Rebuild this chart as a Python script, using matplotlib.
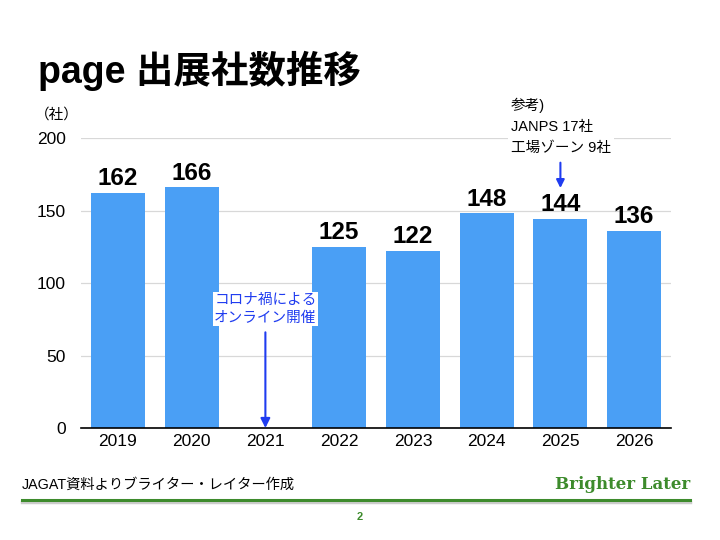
import matplotlib
matplotlib.use("Agg")
import matplotlib.pyplot as plt
import numpy as np

plt.rcParams["font.family"] = ["Liberation Sans", "Noto Sans CJK JP", "DejaVu Sans"]

# データ
years = ["2019", "2020", "2021", "2022", "2023", "2024", "2025", "2026"]
exhibitors = [162, 166, np.nan, 125, 122, 148, 144, 136]
yticks = [0, 50, 100, 150, 200]

bar_color = "#4a9ff5"
arrow_color = "#1f3cf0"
green = "#3d8b2c"

fig = plt.figure(figsize=(7.2, 5.4), dpi=100)
ax = fig.add_axes([0.1125, 0.2074, 0.8195, 0.537])

x = np.arange(len(years))
bars = ax.bar(x, np.nan_to_num(exhibitors), width=0.73, color=bar_color, zorder=3)

# 値ラベル
for xi, v in zip(x, exhibitors):
    if np.isnan(v):
        continue
    ax.annotate(f"{int(v)}", (xi, v), xytext=(0, 2), textcoords="offset points",
                ha="center", va="bottom", fontsize=17.5, fontweight="bold", zorder=4)

ax.set_xlim(-0.5, len(years) - 0.5)
ax.set_ylim(0, 200)
ax.set_yticks(yticks)
ax.set_xticks(x)
ax.set_xticklabels(years)
ax.tick_params(axis="both", length=0, labelsize=12.5)
ax.tick_params(axis="y", pad=11)
ax.tick_params(axis="x", pad=4)
ax.grid(axis="y", color="#d8d8d8", linewidth=0.9, zorder=0)
for s in ["top", "right", "left"]:
    ax.spines[s].set_visible(False)
ax.spines["bottom"].set_linewidth(1.2)
ax.spines["bottom"].set_zorder(5)
ax.set_axisbelow(True)

ax.text(-0.53, 216, "（社）", fontsize=10.5, ha="right", va="center")

# 注記（2021）
ax.annotate("", xy=(2, 0), xytext=(2, 66),
            arrowprops=dict(arrowstyle="-|>", color=arrow_color, lw=1.5,
                            mutation_scale=14, shrinkA=0, shrinkB=0), zorder=6)
ax.text(2, 82, "コロナ禍による\nオンライン開催", color=arrow_color, fontsize=10.5,
        ha="center", va="center", linespacing=1.3,
        bbox=dict(facecolor="white", edgecolor="none", pad=1), zorder=6)

# 注記（2025）
ax.annotate("", xy=(6, 165.5), xytext=(6, 183),
            arrowprops=dict(arrowstyle="-|>", color=arrow_color, lw=1.5,
                            mutation_scale=12, shrinkA=0, shrinkB=0),
            annotation_clip=False, zorder=6)
ax.text(5.33, 208, "参考)\nJANPS 17社\n工場ゾーン 9社", fontsize=10.5,
        ha="left", va="center", linespacing=1.6, clip_on=False,
        bbox=dict(facecolor="white", edgecolor="none", pad=2), zorder=6)

# タイトル
fig.text(0.053, 0.868, "page 出展社数推移", fontsize=27, fontweight="bold",
         ha="left", va="center")

# フッター
fig.text(0.03, 0.102, "JAGAT資料よりブライター・レイター作成", fontsize=10.3,
         ha="left", va="center")
fig.text(0.958, 0.102, "Brighter Later", fontsize=12, fontweight="bold",
         family="DejaVu Serif", color=green, ha="right", va="center")
fig.add_artist(plt.Line2D([0.03, 0.958], [0.070, 0.070], color="#cccccc",
                          linewidth=2.5, transform=fig.transFigure))
fig.add_artist(plt.Line2D([0.03, 0.958], [0.075, 0.075], color=green,
                          linewidth=2.2, transform=fig.transFigure))
fig.text(0.5, 0.043, "2", fontsize=8, fontweight="bold", color=green,
         ha="center", va="center")

fig.savefig("out.png", dpi=100)
